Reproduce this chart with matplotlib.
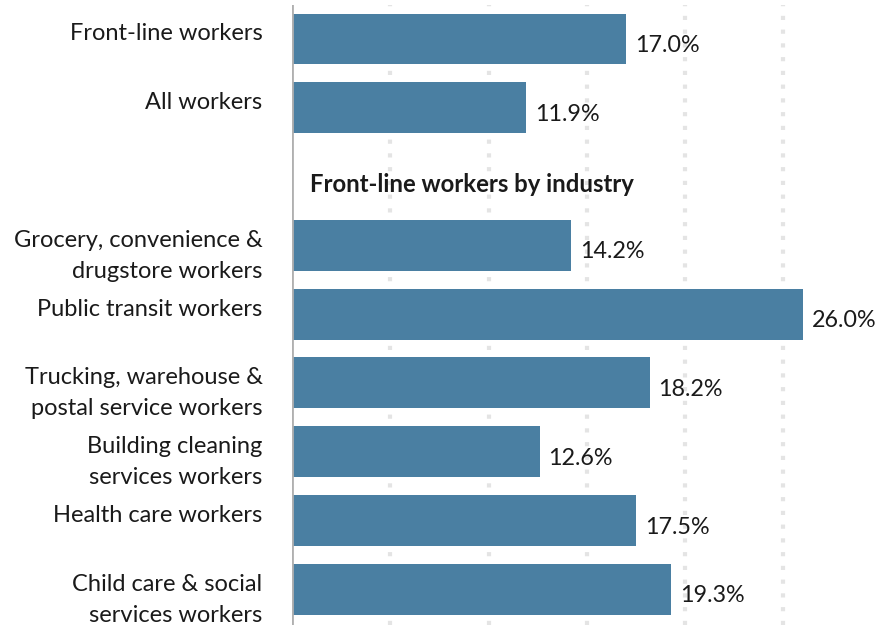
import matplotlib
matplotlib.use('Agg')
import matplotlib.pyplot as plt

plt.rcParams['font.family'] = ['Lato', 'DejaVu Sans']

# Share of workers, percent
categories = [
    'Front-line workers',
    'All workers',
    None,
    'Grocery, convenience &\ndrugstore workers',
    'Public transit workers',
    'Trucking, warehouse &\npostal service workers',
    'Building cleaning\nservices workers',
    'Health care workers',
    'Child care & social\nservices workers',
]
values = [17.0, 11.9, None, 14.2, 26.0, 18.2, 12.6, 17.5, 19.3]
value_labels = ['17.0%', '11.9%', None, '14.2%', '26.0%', '18.2%', '12.6%', '17.5%', '19.3%']
section_header = 'Front-line workers by industry'
section_row = 2

bar_color = '#4a7fa2'
text_color = '#1a1a1a'
line_step = 0.451  # spacing between label lines, in row units

fig = plt.figure(figsize=(8.8, 6.25), dpi=100)
ax = fig.add_axes([292 / 880, 0, 1 - 292 / 880, 620 / 625])

for i, (cat, val, lab) in enumerate(zip(categories, values, value_labels)):
    if val is None:
        continue
    ax.barh(i, val, height=0.74, color=bar_color, zorder=2)
    ax.text(val + 0.45, i + 0.19, lab, ha='left', va='baseline',
            fontsize=16.8, color=text_color)
    # one text per line so the first line sits at the top of the bar
    for k, line in enumerate(cat.split('\n')):
        ax.text(-1.5, i + 0.02 + k * line_step, line, ha='right', va='baseline',
                fontsize=17, color=text_color, clip_on=False)

ax.text(0.9, section_row + 0.23, section_header, ha='left', va='baseline',
        fontsize=17.2, fontweight='bold', color=text_color)

ax.set_xlim(0, 29.92)
ax.set_ylim(8.52, -0.495)

# dotted vertical gridlines every 5 points
for x in [5, 10, 15, 20, 25]:
    ax.axvline(x, color='#e4e4e4', linewidth=3, linestyle=(0, (1, 2.3)), zorder=1)

ax.axvline(0, color='#b0b0b0', linewidth=2, zorder=3)

for side in ['top', 'right', 'bottom', 'left']:
    ax.spines[side].set_visible(False)
ax.set_xticks([])
ax.set_yticks([])

fig.savefig('out.png', dpi=100)
